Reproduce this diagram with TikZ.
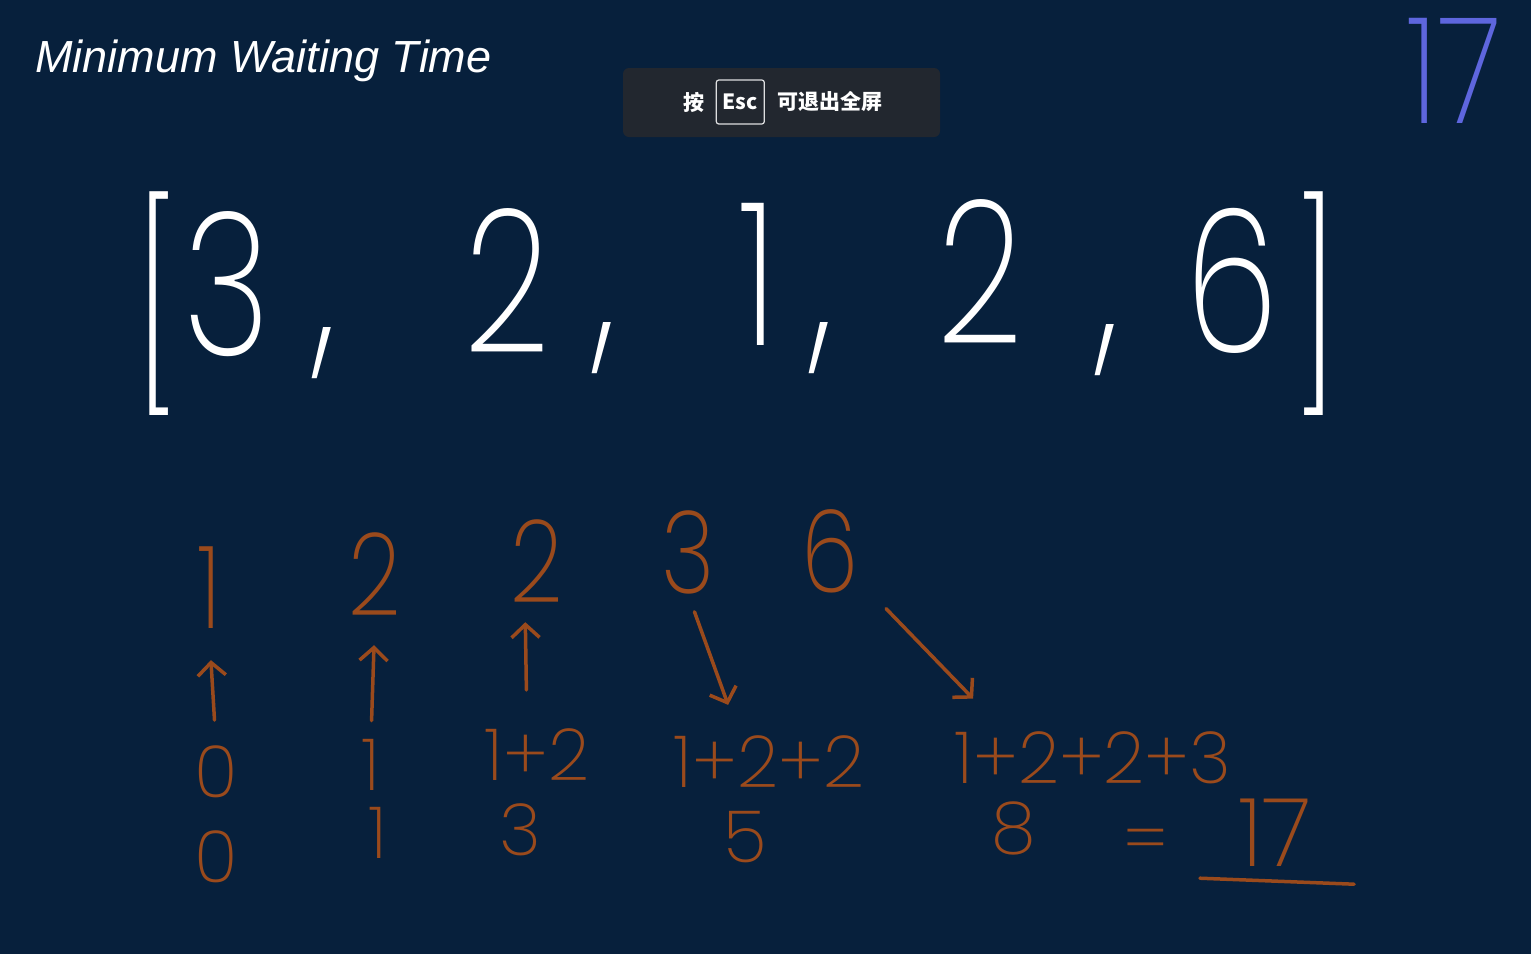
\documentclass[tikz,border=0pt]{standalone}
\usepackage{fontspec}
\usepackage{tikz}
\usetikzlibrary{positioning, arrows.meta}
\newfontfamily\titlefont{Liberation Sans}
\newfontfamily\cjk{Noto Sans CJK SC}
\IfFontExistsTF{Poppins ExtraLight}{\newfontfamily\hand{Poppins ExtraLight}}{\newfontfamily\hand{Poppins}}
\definecolor{board}{HTML}{07203C}
\definecolor{toast}{HTML}{22272F}
\definecolor{chalk}{HTML}{9A4A1C}
\definecolor{pen}{HTML}{5E66DE}

\begin{document}
\begin{tikzpicture}[x=1pt, y=-1pt,
  big/.style={font=\hand\fontsize{200}{200}\selectfont, text=white, inner sep=0pt, anchor=base, xscale=0.75},
  sorted/.style={font=\hand\fontsize{115}{115}\selectfont, text=chalk, inner sep=0pt, anchor=base, xscale=0.8},
  sum/.style={font=\hand\fontsize{72}{72}\selectfont, text=chalk, inner sep=0pt, anchor=base},
  tst/.style={font=\cjk\bfseries\fontsize{21}{21}\selectfont, text=white, inner sep=0pt},
  link/.style={chalk, line width=3.5pt, line cap=round, -{Straight Barb[length=13pt, width=28pt]}},
  under/.style={chalk, line width=3.5pt, line cap=round}
]
\useasboundingbox (0,0) rectangle (1531,954);
\fill[board] (0,0) rectangle (1531,954);

% ===== Title and fullscreen hint =====
\node[font=\titlefont\itshape\fontsize{45}{45}\selectfont, text=white, anchor=base west, inner sep=0pt] (title) at (35,72) {Minimum Waiting Time};
\node[fill=toast, rounded corners=6pt, minimum width=317pt, minimum height=69pt] (hint) at (781.5,102.5) {};
\node[tst] (press) at (693.5,102) {按};
\node[tst, draw=white!85!toast, line width=1.2pt, rounded corners=2.5pt, minimum width=48pt, minimum height=44pt, right=11.5pt of press] (esckey) {Esc};
\node[tst, right=12pt of esckey] (quit) {可退出全屏};

% ===== Input array =====
\node[big] (lb) at (157,378) {[};
\node[big] (a1) at (227,355) {3};
\node[big] (c1) at (325,348) {,};
\node[big] (a2) at (507,352) {2};
\node[big] (c2) at (605,343) {,};
\node[big] (a3) at (758,345) {1};
\node[big] (c3) at (822,343) {,};
\node[big] (a4) at (980,343) {2};
\node[big] (c4) at (1108,345) {,};
\node[big] (a5) at (1232,352) {6};
\node[big] (rb) at (1316,378) {]};

\node[big, text=pen, font=\hand\fontsize{148}{148}\selectfont, xscale=1.1] (corner) at (1454,123) {17};

% ===== Sorted durations =====
\node[sorted] (s1) at (209,628) {1};
\node[sorted] (s2) at (375,615) {2};
\node[sorted] (s3) at (537,602) {2};
\node[sorted] (s4) at (688,593) {3};
\node[sorted] (s5) at (830,592) {6};

% ===== Waiting sums =====
\node[sum] (w1) at (216,797) {0};
\node[sum] (w2) at (371,790) {1};
\node[sum] (w3) at (537,780) {1+2};
\node[sum] (w4) at (769,787) {1+2+2};
\node[sum] (w5) at (1093,783) {1+2+2+3};

\node[sum] (t1) at (216,882) {0};
\node[sum] (t2) at (378,858) {1};
\node[sum] (t3) at (520,855) {3};
\node[sum] (t4) at (745,862) {5};
\node[sum] (t5) at (1014,853) {8};
\node[sum] (eq) at (1146,864) {=};
\node[sum, font=\hand\fontsize{95}{95}\selectfont] (total) at (1275,866) {17};
\draw[under] ([xshift=-38pt, yshift=-12pt]total.south west) -- ([xshift=42pt, yshift=-18pt]total.south east);

% ===== Links =====
\draw[link, shorten <=25pt, shorten >=32pt] (w1.north) -- (s1.south);
\draw[link, shorten <=18pt, shorten >=30pt] (w2.north) -- (s2.south);
\draw[link, shorten <=38pt, shorten >=20pt] ([xshift=-10pt]w3.north) -- ([xshift=-12pt]s3.south);
\draw[link, shorten <=19pt, shorten >=32pt] (s4.south) -- ([xshift=-30pt]w4.north);
\draw[link, shorten <=22pt, shorten >=45pt] ([xshift=12pt]s5.south east) -- ([xshift=50pt]w5.north west);

\end{tikzpicture}
\end{document}
